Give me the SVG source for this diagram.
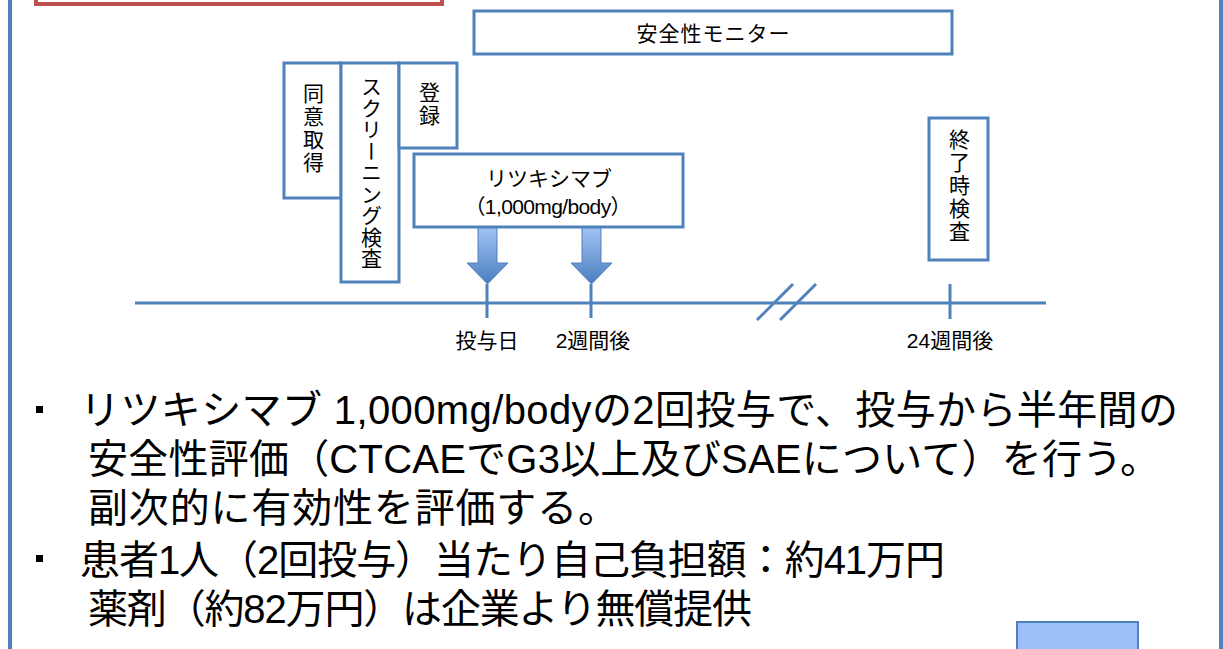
<svg xmlns="http://www.w3.org/2000/svg" width="1223" height="649" viewBox="0 0 1223 649">
<style>
.box{fill:#fff;stroke:#4f81bd;stroke-width:3}
.ln{stroke:#4f81bd;stroke-width:3;fill:none}
.t{font-family:"Liberation Sans","Noto Sans CJK JP",sans-serif;fill:#000}
.s{font-size:21px}
.v{font-size:21px;writing-mode:vertical-rl;letter-spacing:2px}
.b{font-size:40px}
</style>
<defs>
<linearGradient id="ag" x1="0" y1="0" x2="0" y2="1">
<stop offset="0" stop-color="#a3c4f5"/>
<stop offset="1" stop-color="#4a7ebf"/>
</linearGradient>
</defs>
<rect width="1223" height="649" fill="#fff"/>
<line x1="10" y1="0" x2="10" y2="649" stroke="#4f81bd" stroke-width="4"/>
<line x1="1221" y1="0" x2="1221" y2="649" stroke="#4f81bd" stroke-width="4"/>
<rect x="36" y="-50" width="406" height="54" fill="none" stroke="#c0504d" stroke-width="4"/>

<g id="connectors">
<line class="ln" x1="135" y1="303" x2="1046" y2="303"/>
<line class="ln" x1="487" y1="284" x2="487" y2="318"/>
<line class="ln" x1="591" y1="284" x2="591" y2="318"/>
<line class="ln" x1="950" y1="284" x2="950" y2="319"/>
<line class="ln" x1="757" y1="320" x2="793" y2="284"/>
<line class="ln" x1="780" y1="320" x2="816" y2="284"/>
<path d="M478 227H497V263H508L487.5 284L467 263H478Z" fill="url(#ag)" stroke="#4f81bd" stroke-width="1"/>
<path d="M582 227H601V263H612L591.5 284L571 263H582Z" fill="url(#ag)" stroke="#4f81bd" stroke-width="1"/>
</g>

<g id="monitor">
<rect class="box" x="474" y="11" width="478" height="43"/>
<text class="t s" x="713" y="41" text-anchor="middle" textLength="153" lengthAdjust="spacing">安全性モニター</text>
</g>
<g id="consent">
<rect class="box" x="284" y="63" width="57" height="135"/>
<text class="t v" x="312" y="83">同意取得</text>
</g>
<g id="screening">
<rect class="box" x="341" y="63" width="58" height="219"/>
<text class="t v" x="370" y="76" style="letter-spacing:0.5px">スクリーニング検査</text>
</g>
<g id="register">
<rect class="box" x="399" y="63" width="58" height="85"/>
<text class="t v" x="428" y="82">登録</text>
</g>
<g id="rituximab">
<rect class="box" x="414" y="154" width="269" height="73"/>
<text class="t s" x="549" y="186" text-anchor="middle">リツキシマブ</text>
<text class="t s" x="548" y="214" text-anchor="middle" textLength="167" lengthAdjust="spacing">（1,000mg/body）</text>
</g>
<g id="endcheck">
<rect class="box" x="929" y="118" width="59" height="142"/>
<text class="t v" x="958" y="129">終了時検査</text>
</g>

<g id="labels">
<text class="t s" x="487" y="348" text-anchor="middle">投与日</text>
<text class="t s" x="593" y="348" text-anchor="middle">2週間後</text>
<text class="t s" x="950" y="348" text-anchor="middle">24週間後</text>
</g>

<g id="notes">
<rect x="36" y="406" width="7" height="7" fill="#000"/>
<rect x="36" y="555" width="7" height="7" fill="#000"/>
<text class="t b" x="80" y="424" textLength="1098" lengthAdjust="spacing">リツキシマブ 1,000mg/bodyの2回投与で、投与から半年間の</text>
<text class="t b" x="88" y="473" textLength="1072" lengthAdjust="spacing">安全性評価（CTCAEでG3以上及びSAEについて）を行う。</text>
<text class="t b" x="88" y="522" textLength="530" lengthAdjust="spacing">副次的に有効性を評価する。</text>
<text class="t b" x="80" y="574" textLength="865" lengthAdjust="spacing">患者1人（2回投与）当たり自己負担額：約41万円</text>
<text class="t b" x="88" y="623" textLength="664" lengthAdjust="spacing">薬剤（約82万円）は企業より無償提供</text>
</g>

<rect x="1017" y="622" width="121" height="40" fill="#9dc0f8" stroke="#4f81bd" stroke-width="2"/>
</svg>
